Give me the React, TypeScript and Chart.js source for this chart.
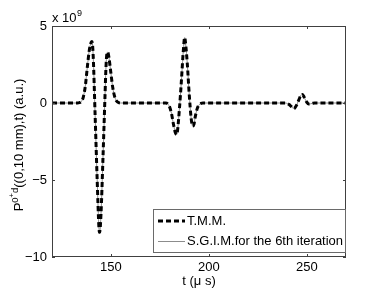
import React, { useEffect, useRef } from "react";
import { Chart, registerables } from "chart.js";

Chart.register(...registerables);

// time (µs)
const tTimes = [
  120, 125, 130, 133, 134, 135, 136, 137, 138, 139, 140, 140.4, 141, 142, 143, 144, 144.3, 145, 146, 147, 147.5, 148, 148.4,
  149, 150, 151, 152, 153, 154, 155, 160, 170, 178, 179, 180, 181, 182, 183, 183.6, 184, 185, 186, 187, 187.7, 188, 189,
  190, 191, 191.8, 192.5, 193, 194, 195, 196, 197, 210, 230, 239, 240, 241, 242, 243, 243.5, 244, 245, 246, 247, 247.7,
  248.5, 249, 250, 251, 252, 253, 254, 260, 270,
];
// pressure values, ×10^9 (a.u.)
const pValues = [
  0, 0, 0, 0, 0.02, 0.1, 0.4, 1.1, 2.3, 3.4, 3.95, 4.0, 3.1, -0.8, -4.8, -8.2, -8.4, -7.2, -3.6, 0.3, 2.2, 3.2, 3.3,
  3.0, 2.0, 1.0, 0.4, 0.12, 0.03, 0, 0, 0, 0, -0.05, -0.25, -0.7, -1.4, -1.95, -2.05, -1.85, -0.4, 1.4, 3.4, 4.25, 4.05, 2.6,
  0.6, -1.0, -1.5, -1.35, -0.95, -0.4, -0.12, -0.03, 0, 0, 0, 0, -0.03, -0.1, -0.22, -0.34, -0.36, -0.3, -0.08, 0.22, 0.5, 0.56,
  0.42, 0.28, 0.05, -0.06, -0.05, -0.02, 0, 0, 0,
];

const xTicks = [150, 200, 250];
const yTicks = [-10, -5, 0, 5];
const seriesLabels = ["T.M.M.", "S.G.I.M.for the 6th iteration"];
const xTitle = "t (\u03bc s)";
const yExponent = "9";

const FONT = "'Liberation Sans', Arial, Helvetica, sans-serif";

const fmt = (v: number) => (v < 0 ? "\u2212" + Math.abs(v) : String(v));

const decorPlugin = {
  id: "decor",
  afterDraw(chart: any) {
    const ctx: CanvasRenderingContext2D = chart.ctx;
    const { left, right, top, bottom } = chart.chartArea;
    const xs = chart.scales.x;
    const ys = chart.scales.y;
    ctx.save();
    // axes box
    ctx.strokeStyle = "#404040";
    ctx.lineWidth = 1;
    ctx.setLineDash([]);
    ctx.strokeRect(Math.round(left) + 0.5, Math.round(top) + 0.5, Math.round(right - left) - 1, Math.round(bottom - top) - 1);
    const tl = 3;
    ctx.beginPath();
    xTicks.forEach((v) => {
      const px = Math.round(xs.getPixelForValue(v)) + 0.5;
      ctx.moveTo(px, bottom);
      ctx.lineTo(px, bottom - tl);
      ctx.moveTo(px, top);
      ctx.lineTo(px, top + tl);
    });
    yTicks.forEach((v) => {
      const py = Math.round(ys.getPixelForValue(v)) + 0.5;
      ctx.moveTo(left, py);
      ctx.lineTo(left + tl, py);
      ctx.moveTo(right, py);
      ctx.lineTo(right - tl, py);
    });
    ctx.stroke();

    // exponent label
    ctx.fillStyle = "#000";
    ctx.textBaseline = "alphabetic";
    ctx.textAlign = "left";
    ctx.font = `13px ${FONT}`;
    const base = "x 10";
    ctx.fillText(base, left, 22);
    const bw = ctx.measureText(base).width;
    ctx.font = `9px ${FONT}`;
    ctx.fillText(yExponent, left + bw + 0.5, 16);

    // y title
    ctx.save();
    ctx.translate(22.5, 145);
    ctx.rotate(-Math.PI / 2);
    const parts: [string, number, number][] = [
      ["P", 13, 0],
      ["0", 9.5, -5],
      ["+", 7.5, -9],
      ["d", 9.5, -5],
      ["((0,10 mm),t) (a.u.)", 13, 0],
    ];
    let total = 0;
    const widths = parts.map(([s, sz]) => {
      ctx.font = `${sz}px ${FONT}`;
      const w = ctx.measureText(s).width;
      total += w;
      return w;
    });
    let cx = -total / 2;
    parts.forEach(([s, sz, dy], i) => {
      ctx.font = `${sz}px ${FONT}`;
      ctx.fillText(s, cx, dy);
      cx += widths[i];
    });
    ctx.restore();

    // legend
    const lw = 193;
    const lh = 44;
    const lx = Math.round(right) - lw;
    const ly = Math.round(bottom) - 4 - lh;
    ctx.fillStyle = "#fff";
    ctx.fillRect(lx, ly, lw, lh);
    ctx.strokeStyle = "#6a6a6a";
    ctx.lineWidth = 1;
    ctx.strokeRect(lx + 0.5, ly + 0.5, lw - 1, lh - 1);
    const row1 = ly + 12;
    const row2 = ly + 32.5;
    ctx.beginPath();
    ctx.strokeStyle = "#000";
    ctx.lineWidth = 3;
    ctx.setLineDash([5, 3]);
    ctx.moveTo(lx + 5, row1);
    ctx.lineTo(lx + 32, row1);
    ctx.stroke();
    ctx.beginPath();
    ctx.setLineDash([]);
    ctx.strokeStyle = "#8c8c8c";
    ctx.lineWidth = 1;
    ctx.moveTo(lx + 5, row2);
    ctx.lineTo(lx + 32, row2);
    ctx.stroke();
    ctx.fillStyle = "#000";
    ctx.font = `13px ${FONT}`;
    ctx.textBaseline = "middle";
    ctx.fillText(seriesLabels[0], lx + 34, row1);
    ctx.fillText(seriesLabels[1], lx + 34, row2);
    ctx.restore();
  },
};

export default function App() {
  const ref = useRef<HTMLCanvasElement | null>(null);
  useEffect(() => {
    if (!ref.current) return;
    const pts = tTimes.map((t, i) => ({ x: t, y: pValues[i] }));
    const chart = new Chart(ref.current, {
      type: "line",
      data: {
        datasets: [
          {
            label: seriesLabels[0],
            data: pts,
            borderColor: "#000",
            borderWidth: 3,
            borderDash: [5, 3],
            pointRadius: 0,
            cubicInterpolationMode: "monotone",
            fill: false,
            order: 0,
          },
          {
            label: seriesLabels[1],
            data: pts,
            borderColor: "#8c8c8c",
            borderWidth: 1,
            pointRadius: 0,
            cubicInterpolationMode: "monotone",
            fill: false,
            order: 1,
          },
        ],
      },
      options: {
        animation: false,
        responsive: false,
        events: [],
        layout: { padding: { top: 26, right: 36, left: 0, bottom: 0 } },
        plugins: { legend: { display: false }, tooltip: { enabled: false } },
        scales: {
          x: {
            type: "linear",
            min: 120,
            max: 270,
            afterBuildTicks: (s: any) => {
              s.ticks = xTicks.map((v) => ({ value: v }));
            },
            afterFit: (s: any) => {
              s.height = 33;
            },
            grid: { display: false, drawTicks: false },
            border: { display: false },
            ticks: {
              padding: 3,
              color: "#000",
              font: { family: FONT, size: 13 },
              maxRotation: 0,
              callback: (v: any) => fmt(Number(v)),
            },
            title: {
              display: true,
              text: xTitle,
              color: "#000",
              font: { family: FONT, size: 13 },
              padding: { top: 0, bottom: 1 },
            },
          },
          y: {
            type: "linear",
            min: -10,
            max: 5,
            afterBuildTicks: (s: any) => {
              s.ticks = yTicks.map((v) => ({ value: v }));
            },
            afterFit: (s: any) => {
              s.width = 52;
            },
            grid: { display: false, drawTicks: false },
            border: { display: false },
            ticks: {
              padding: 5,
              color: "#000",
              font: { family: FONT, size: 13 },
              callback: (v: any) => fmt(Number(v)),
            },
          },
        },
      },
      plugins: [decorPlugin],
    });
    return () => chart.destroy();
  }, []);
  return (
    <div style={{ position: "fixed", left: 0, top: 0, width: 382, height: 290, background: "#fff" }}>
      <canvas ref={ref} width={382} height={290} style={{ display: "block" }} />
    </div>
  );
}
